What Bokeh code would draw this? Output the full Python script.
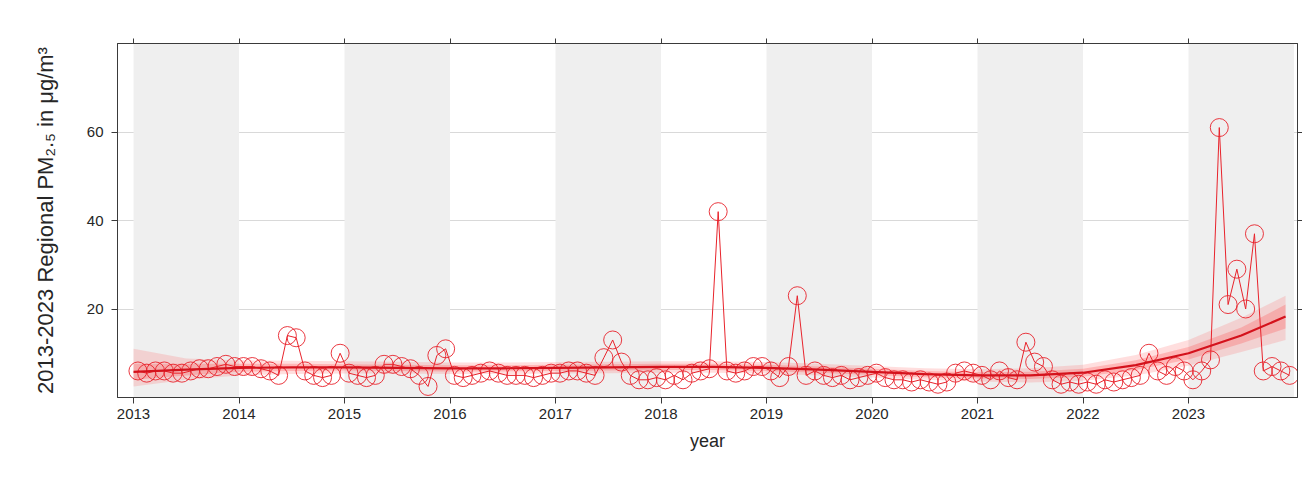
from bokeh.plotting import figure
from bokeh.models import FixedTicker, LinearAxis, BoxAnnotation, ColumnDataSource, Range1d
from bokeh.embed import file_html
from bokeh.resources import INLINE

# ---- data (monthly regional PM2.5) ----
years = list(range(2013, 2024))
pm_2013 = [6.0, 5.5, 6.0, 6.0, 5.5, 5.5, 6.0, 6.5, 6.5, 7.0, 7.5, 7.0]
pm_2014 = [7.0, 7.0, 6.5, 6.0, 5.0, 14.0, 13.5, 6.0, 5.0, 4.5, 5.0, 10.0]
pm_2015 = [5.5, 5.0, 4.5, 5.0, 7.5, 7.5, 7.0, 6.5, 5.0, 2.5, 9.5, 11.0]
pm_2016 = [5.0, 4.5, 5.0, 5.5, 6.0, 5.5, 5.0, 5.0, 5.0, 4.5, 5.0, 5.5]
pm_2017 = [5.5, 6.0, 6.0, 5.5, 5.0, 9.0, 13.0, 8.0, 5.0, 4.0, 4.0, 4.5]
pm_2018 = [4.0, 5.0, 4.0, 5.5, 6.0, 6.5, 42.0, 6.0, 5.5, 6.0, 7.0, 7.0]
pm_2019 = [6.0, 4.5, 7.0, 23.0, 5.0, 6.0, 5.0, 4.5, 5.0, 4.0, 4.5, 5.0]
pm_2020 = [5.5, 4.5, 4.0, 4.0, 3.5, 4.0, 3.5, 3.0, 3.5, 5.5, 6.0, 5.5]
pm_2021 = [5.0, 4.0, 6.0, 4.5, 4.0, 12.5, 8.0, 7.0, 4.0, 3.0, 3.5, 3.0]
pm_2022 = [3.5, 3.0, 4.0, 3.5, 4.0, 4.5, 5.0, 10.0, 6.0, 5.0, 7.0, 6.0]
pm_2023 = [4.0, 6.0, 8.5, 61.0, 21.0, 29.0, 20.0, 37.0, 6.0, 7.0, 6.0, 5.0]
monthly = [pm_2013, pm_2014, pm_2015, pm_2016, pm_2017, pm_2018,
           pm_2019, pm_2020, pm_2021, pm_2022, pm_2023]

# smoothed trend with confidence band
trend_x = [2013.0, 2013.5, 2014.0, 2014.5, 2015.0, 2015.5, 2016.0, 2016.5, 2017.0,
           2017.5, 2018.0, 2018.5, 2019.0, 2019.5, 2020.0, 2020.5, 2021.0, 2021.5,
           2022.0, 2022.5, 2023.0, 2023.5, 2023.92]
trend_y = [5.8, 6.3, 6.7, 6.8, 6.8, 6.7, 6.6, 6.6, 6.7, 6.8, 6.9, 6.9, 6.7, 6.3,
           5.8, 5.3, 5.0, 5.0, 5.6, 7.3, 10.0, 14.0, 18.3]
band_lo = [2.5, 4.0, 5.0, 5.3, 5.4, 5.4, 5.3, 5.3, 5.4, 5.5, 5.6, 5.6, 5.4, 5.0,
           4.5, 4.0, 3.6, 3.4, 3.8, 5.0, 7.2, 10.3, 13.0]
band_hi = [11.0, 8.8, 8.4, 8.3, 8.2, 8.1, 7.9, 7.9, 8.0, 8.1, 8.2, 8.2, 8.0, 7.6,
           7.1, 6.6, 6.4, 6.6, 7.4, 9.6, 13.0, 18.0, 23.0]
inner_lo = [4.0, 5.0, 5.8, 6.0, 6.1, 6.0, 5.9, 5.9, 6.0, 6.1, 6.2, 6.2, 6.0, 5.6,
            5.1, 4.6, 4.3, 4.2, 4.7, 6.2, 8.6, 12.2, 15.6]
inner_hi = [7.6, 7.6, 7.6, 7.6, 7.5, 7.4, 7.3, 7.3, 7.4, 7.5, 7.6, 7.6, 7.4, 7.0,
            6.5, 6.0, 5.7, 5.8, 6.5, 8.4, 11.4, 15.8, 21.0]

x_ticks = [2013, 2014, 2015, 2016, 2017, 2018, 2019, 2020, 2021, 2022, 2023]
y_ticks = [20, 40, 60]

# ---- build ----
xs, ys = [], []
for yr, vals in zip(years, monthly):
    for m, v in enumerate(vals):
        xs.append(yr + (m + 0.5) / 12.0)
        ys.append(v)
src = ColumnDataSource(dict(x=xs, y=ys))

FONT = "Liberation Sans"
AX = "#3a3a3a"

p = figure(x_range=Range1d(2012.848, 2024.033), y_range=Range1d(0, 80),
           frame_width=1180, frame_height=354,
           min_border_left=117, min_border_top=43, min_border_right=2, min_border_bottom=20,
           output_backend="svg", toolbar_location=None,
           background_fill_color="white", border_fill_color="white")
p.outline_line_color = AX
p.outline_line_width = 1

# alternating year bands
for yr in range(2013, 2024, 2):
    p.add_layout(BoxAnnotation(left=yr, right=yr + 1, fill_color="#efefef",
                               fill_alpha=1.0, line_color=None, level="underlay"))

p.xgrid.visible = False
p.ygrid.ticker = FixedTicker(ticks=y_ticks)
p.ygrid.grid_line_color = "#d9d9d9"
p.ygrid.grid_line_width = 1
p.ygrid.level = "underlay"

# confidence bands and trend
p.varea(x=trend_x, y1=band_lo, y2=band_hi, fill_color="#ff6b6b", fill_alpha=0.22)
p.varea(x=trend_x, y1=inner_lo, y2=inner_hi, fill_color="#ff4040", fill_alpha=0.25)

# monthly series
p.line("x", "y", source=src, line_color="#e8232b", line_width=1.0)
p.scatter("x", "y", source=src, marker="circle", size=18, fill_color=None,
          line_color="#e8232b", line_width=0.9)

p.line(trend_x, trend_y, line_color="#d4121c", line_width=2.2)

# axes
xa = p.xaxis[0]
xa.ticker = FixedTicker(ticks=x_ticks)
xa.axis_label = "year"
ya = p.yaxis[0]
ya.ticker = FixedTicker(ticks=y_ticks)
ya.axis_label = "2013-2023 Regional PM\u2082.\u2085 in \u03bcg/m\u00b3"
for ax in (xa, ya):
    ax.axis_line_color = AX
    ax.major_tick_line_color = AX
    ax.minor_tick_line_color = None
    ax.major_tick_in = 0
    ax.major_tick_out = 6
    ax.major_label_text_font = FONT
    ax.major_label_text_font_size = "15px"
    ax.major_label_text_color = "#262626"
    ax.axis_label_text_font = FONT
    ax.axis_label_text_font_style = "normal"
    ax.axis_label_text_color = "#262626"
xa.axis_label_text_font_size = "18px"
ya.axis_label_text_font_size = "22px"
xa.major_label_standoff = 5
xa.axis_label_standoff = 9
ya.major_label_standoff = 8
ya.axis_label_standoff = 26

top = LinearAxis(ticker=FixedTicker(ticks=x_ticks))
right = LinearAxis(ticker=FixedTicker(ticks=y_ticks))
for ax in (top, right):
    ax.axis_line_color = AX
    ax.major_tick_line_color = AX
    ax.minor_tick_line_color = None
    ax.major_tick_in = 0
    ax.major_tick_out = 5
    ax.major_label_text_font_size = "0px"
    ax.major_label_text_color = None
    ax.major_label_standoff = 0
p.add_layout(top, "above")
p.add_layout(right, "right")

open("out.html", "w").write(file_html(p, INLINE))
